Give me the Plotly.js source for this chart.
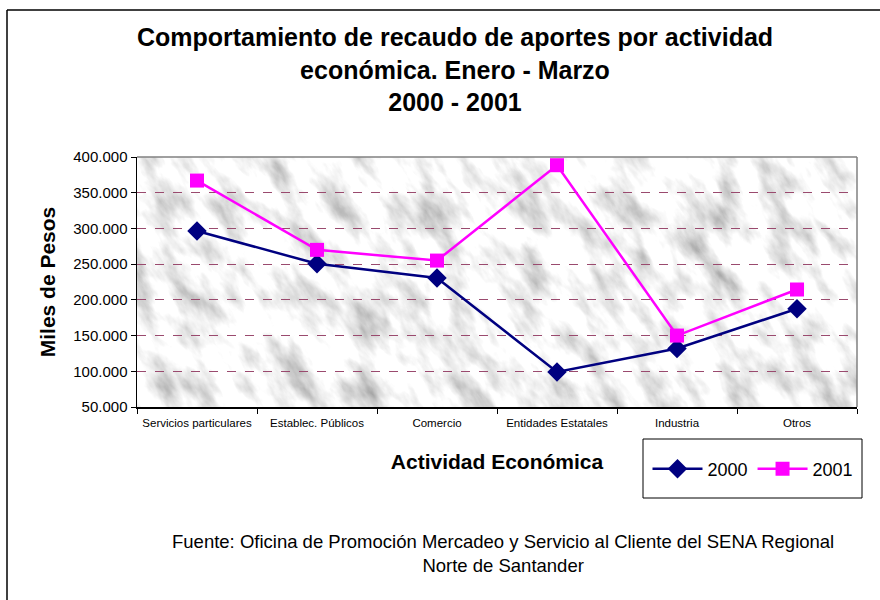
<!DOCTYPE html>
<html>
<head>
<meta charset="utf-8">
<script src="https://cdn.plot.ly/plotly-3.0.1.min.js"></script>
<style>html,body{margin:0;padding:0;background:#fff;}#chart{width:880px;height:600px;}</style>
</head>
<body>
<div id="chart"></div>
<script>
const categories = ["Servicios particulares", "Establec. Públicos", "Comercio", "Entidades Estatales", "Industria", "Otros"];
const values2000 = [296500, 250500, 230500, 99000, 132000, 187500];
const values2001 = [367000, 270000, 255000, 388500, 150000, 214500];
const yTicks = [50000, 100000, 150000, 200000, 250000, 300000, 350000, 400000];

const svgTex = "<svg xmlns='http://www.w3.org/2000/svg' width='720' height='250'>" +
  "<filter id='f' x='0' y='0' width='100%' height='100%' filterUnits='objectBoundingBox'>" +
  "<feTurbulence type='fractalNoise' baseFrequency='0.045 0.018' numOctaves='5' seed='11'/>" +
  "<feColorMatrix type='matrix' values='1.3 0 0 0 0.27  1.3 0 0 0 0.27  1.3 0 0 0 0.27  0 0 0 0 1'/>" +
  "</filter><g transform='rotate(-35 360 125)'>" +
  "<rect x='-500' y='-500' width='1720' height='1250' fill='#ddd' filter='url(#f)'/></g></svg>";
const texSrc = "data:image/svg+xml;charset=utf-8," + encodeURIComponent(svgTex);

const traces = [
  {x: categories, y: values2000, name: "2000", type: "scatter", mode: "lines+markers",
   line: {color: "#000080", width: 2.5},
   marker: {symbol: "diamond", size: 15, color: "#000080"}},
  {x: categories, y: values2001, name: "2001", type: "scatter", mode: "lines+markers",
   line: {color: "#FF00FF", width: 2.5},
   marker: {symbol: "square", size: 14, color: "#FF00FF"}}
];

const L = 137, R = 857, T = 157, B = 407;
const px = v => (v - L) / (R - L);
const py = v => (B - v) / (B - T);

const layout = {
  width: 880, height: 600,
  margin: {l: L, r: 880 - R, t: T, b: 600 - B},
  paper_bgcolor: "#ffffff",
  plot_bgcolor: "#ececec",
  separators: ",.",
  font: {family: "Liberation Sans, Arial, sans-serif", color: "#000"},
  title: {
    text: "<b>Comportamiento de recaudo de aportes por actividad<br>económica. Enero - Marzo<br>2000 - 2001</b>",
    font: {size: 25, color: "#000"},
    x: px(455), xref: "paper", xanchor: "center",
    y: 1 - 46 / 600, yref: "container", yanchor: "top"
  },
  xaxis: {
    type: "category",
    range: [-0.5, 5.5],
    showgrid: false,
    showline: true, linecolor: "#000", linewidth: 1.5,
    ticks: "outside", tickson: "boundaries", ticklen: 5, tickcolor: "#000",
    tickfont: {size: 11.5},
    tickangle: 0,
    ticklabelstandoff: 5,
    title: {text: "<b>Actividad Económica</b>", font: {size: 21}, standoff: 26},
    zeroline: false
  },
  yaxis: {
    range: [50000, 400000],
    tickvals: yTicks,
    tickformat: ",d",
    showgrid: true, gridcolor: "#9a4a6e", griddash: "dash", gridwidth: 1,
    showline: true, linecolor: "#000", linewidth: 1.5,
    ticks: "outside", ticklen: 5, tickcolor: "#000",
    tickfont: {size: 15},
    title: {text: "<b>Miles de Pesos</b>", font: {size: 21}, standoff: 12},
    zeroline: false
  },
  images: [{
    source: texSrc, xref: "paper", yref: "paper",
    x: 0, y: 1, sizex: 1, sizey: 1, sizing: "stretch", layer: "below",
    xanchor: "left", yanchor: "top"
  }],
  showlegend: true,
  legend: {
    orientation: "h",
    x: px(753), y: py(469), xanchor: "center", yanchor: "middle",
    bgcolor: "rgba(0,0,0,0)", borderwidth: 0,
    font: {size: 18}, itemwidth: 50
  },
  shapes: [
    {type: "line", xref: "paper", yref: "paper", x0: 0, x1: 1, y0: 1, y1: 1, line: {color: "#808080", width: 1.5}},
    {type: "line", xref: "paper", yref: "paper", x0: 1, x1: 1, y0: 0, y1: 1, line: {color: "#808080", width: 1.5}},
    {type: "rect", xref: "paper", yref: "paper", x0: px(643), x1: px(862), y0: py(498), y1: py(439), line: {color: "#000", width: 1}, fillcolor: "rgba(0,0,0,0)"},
    {type: "line", xref: "paper", yref: "paper", x0: px(7), x1: px(7), y0: py(10), y1: py(600), line: {color: "#000", width: 1.5}},
    {type: "line", xref: "paper", yref: "paper", x0: px(7), x1: px(880), y0: py(10), y1: py(10), line: {color: "#000", width: 1.5}}
  ],
  annotations: [{
    text: "Fuente: Oficina de Promoción Mercadeo y Servicio al Cliente del SENA Regional<br>Norte de Santander",
    xref: "paper", yref: "paper", x: px(503), y: py(529), xanchor: "center", yanchor: "top",
    showarrow: false, font: {size: 18.5, color: "#000"}, align: "center"
  }]
};

Plotly.newPlot("chart", traces, layout, {staticPlot: true, displayModeBar: false});
</script>
</body>
</html>
